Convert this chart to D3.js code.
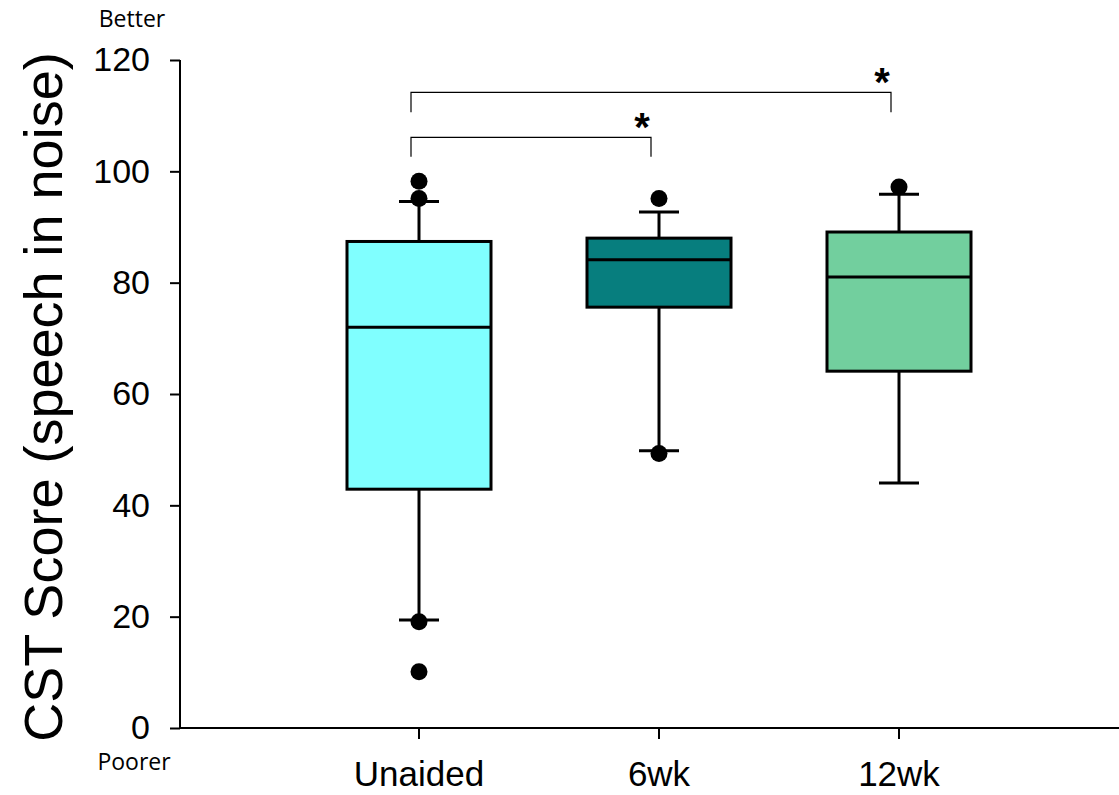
<!DOCTYPE html>
<html>
<head>
<meta charset="utf-8">
<script src="https://cdn.jsdelivr.net/npm/d3@7"></script>
<style>
  body { margin: 0; background: #fff; }
  svg { display: block; }
</style>
</head>
<body>
<div id="chart"></div>
<script>
// box plot values
var categories = ["Unaided", "6wk", "12wk"];
var q1 = [42.9, 75.6, 64.1];
var medians = [72, 84.1, 81];
var q3 = [87.4, 88, 89.1];
var whiskerLow = [19.4, 49.8, 44];
var whiskerHigh = [94.6, 92.7, 95.9];
var outliers = [[98.2, 95.1, 19.1, 10.1], [95.1, 49.3], [97.2]];
var fills = ["#80ffff", "#077e7e", "#72cf9e"];
var yTicks = [0, 20, 40, 60, 80, 100, 120];

// significance brackets: from / to category, bar level, leg end
var bracketFrom = ["Unaided", "Unaided"];
var bracketTo = ["12wk", "6wk"];
var bracketLevel = [114.2, 106.1];
var bracketLeg = [110.6, 102.6];

var width = 1119, height = 795;
var svg = d3.select("#chart").append("svg")
    .attr("width", width)
    .attr("height", height);

var y = d3.scaleLinear().domain([0, 120]).range([728, 60]);
var x = d3.scaleBand().domain(categories).range([299, 1019]);
var boxW = x.bandwidth() * 0.6;
var capW = 40;

function cx(c) { return x(c) + x.bandwidth() / 2; }

// y axis
var yAxis = svg.append("g")
    .attr("transform", "translate(180,0)")
    .call(d3.axisLeft(y).tickValues(yTicks).tickSize(10).tickPadding(20));
yAxis.select(".domain").attr("stroke-width", 2).attr("d", "M0,60V728");
yAxis.selectAll(".tick line").attr("stroke-width", 2);
yAxis.selectAll(".tick text")
    .attr("font-family", "Liberation Sans, Arial, sans-serif")
    .attr("font-size", 34)
    .attr("fill", "#000");

// x axis
var xAxis = svg.append("g")
    .attr("transform", "translate(0,728)")
    .call(d3.axisBottom(x).tickSize(11).tickPadding(22));
xAxis.select(".domain").attr("stroke-width", 2).attr("d", "M180,0H1119");
xAxis.selectAll(".tick line").attr("stroke-width", 2);
xAxis.selectAll(".tick text")
    .attr("font-family", "Liberation Sans, Arial, sans-serif")
    .attr("font-size", 35)
    .attr("fill", "#000");

// axis title
svg.append("text")
    .attr("transform", "translate(62,397) rotate(-90)")
    .attr("text-anchor", "middle")
    .attr("font-family", "Liberation Sans, Arial, sans-serif")
    .attr("font-size", 54)
    .text("CST Score (speech in noise)");

svg.append("text")
    .attr("x", 132).attr("y", 27)
    .attr("text-anchor", "middle")
    .attr("font-family", "Open Sans, sans-serif")
    .attr("font-size", 23)
    .text("Better");

svg.append("text")
    .attr("x", 134).attr("y", 770)
    .attr("text-anchor", "middle")
    .attr("font-family", "Open Sans, sans-serif")
    .attr("font-size", 23)
    .text("Poorer");

// boxes
var boxes = svg.append("g");
categories.forEach(function(c, i) {
  var g = boxes.append("g");
  var mx = cx(c);

  // whiskers
  g.append("line")
      .attr("x1", mx).attr("x2", mx)
      .attr("y1", y(q3[i])).attr("y2", y(whiskerHigh[i]))
      .attr("stroke", "#000").attr("stroke-width", 3);
  g.append("line")
      .attr("x1", mx).attr("x2", mx)
      .attr("y1", y(q1[i])).attr("y2", y(whiskerLow[i]))
      .attr("stroke", "#000").attr("stroke-width", 3);
  [whiskerHigh[i], whiskerLow[i]].forEach(function(v) {
    g.append("line")
        .attr("x1", mx - capW / 2).attr("x2", mx + capW / 2)
        .attr("y1", y(v)).attr("y2", y(v))
        .attr("stroke", "#000").attr("stroke-width", 3);
  });

  g.append("rect")
      .attr("x", mx - boxW / 2)
      .attr("y", y(q3[i]))
      .attr("width", boxW)
      .attr("height", y(q1[i]) - y(q3[i]))
      .attr("fill", fills[i])
      .attr("stroke", "#000")
      .attr("stroke-width", 3);

  g.append("line")
      .attr("x1", mx - boxW / 2).attr("x2", mx + boxW / 2)
      .attr("y1", y(medians[i])).attr("y2", y(medians[i]))
      .attr("stroke", "#000").attr("stroke-width", 3);

  g.selectAll("circle")
      .data(outliers[i])
    .enter().append("circle")
      .attr("cx", mx)
      .attr("cy", function(d) { return y(d); })
      .attr("r", 8.5)
      .attr("fill", "#000");
});

// significance brackets
var shift = -8;
bracketFrom.forEach(function(f, i) {
  var x1 = cx(f) + shift, x2 = cx(bracketTo[i]) + shift;
  var yl = y(bracketLevel[i]), yb = y(bracketLeg[i]);
  svg.append("path")
      .attr("d", "M" + x1 + "," + yb + "V" + yl + "H" + x2 + "V" + yb)
      .attr("fill", "none")
      .attr("stroke", "#000")
      .attr("stroke-width", 1.2);
  svg.append("text")
      .attr("x", x2 - 9)
      .attr("y", yl + 4)
      .attr("text-anchor", "middle")
      .attr("font-family", "Liberation Sans, Arial, sans-serif")
      .attr("font-weight", "bold")
      .attr("font-size", 40)
      .text("*");
});
</script>
</body>
</html>
